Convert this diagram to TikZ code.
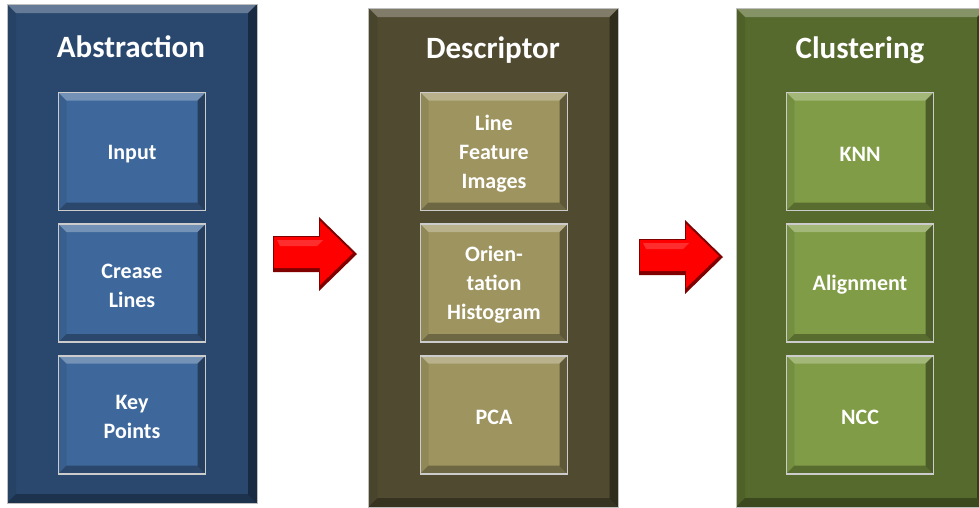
\documentclass[tikz,border=0pt]{standalone}
\usepackage{fontspec}
\setmainfont{Carlito}
\usetikzlibrary{positioning,calc}

\definecolor{absblue}{RGB}{42,72,110}
\definecolor{absbox}{RGB}{62,104,155}
\definecolor{desolive}{RGB}{80,74,48}
\definecolor{desbox}{RGB}{158,148,96}
\definecolor{clugreen}{RGB}{86,106,45}
\definecolor{clubox}{RGB}{128,156,70}

% raised edges: light on top, dark to the right and below
\tikzset{bevel/.style={path picture={
  \path (path picture bounding box.north west) coordinate (bnw)
        (path picture bounding box.north east) coordinate (bne)
        (path picture bounding box.south west) coordinate (bsw)
        (path picture bounding box.south east) coordinate (bse);
  \fill[white,opacity=.28] (bnw) -- (bne) -- ($(bne)+(-#1,-#1)$) -- ($(bnw)+(#1,-#1)$) -- cycle;
  \fill[black,opacity=.4] (bne) -- (bse) -- ($(bse)+(-#1,#1)$) -- ($(bne)+(-#1,-#1)$) -- cycle;
  \fill[black,opacity=.3] (bsw) -- (bse) -- ($(bse)+(-#1,#1)$) -- ($(bsw)+(#1,#1)$) -- cycle;
  \fill[black,opacity=.08] (bnw) -- (bsw) -- ($(bsw)+(#1,#1)$) -- ($(bnw)+(#1,-#1)$) -- cycle;
}}}
\tikzstyle{panel}=[draw=black!25, line width=.6pt, minimum width=250pt, minimum height=499pt, bevel=9pt]
\tikzstyle{stage}=[draw=white!80!black, line width=1.6pt, minimum width=147pt, minimum height=118pt, text width=130pt, align=center, text=white, font=\bfseries\fontsize{22}{29}\selectfont, execute at begin node={\rule{0pt}{19pt}}, bevel=8pt]
\tikzstyle{heading}=[text=white, font=\bfseries\fontsize{31}{36}\selectfont]

\begin{document}
\begin{tikzpicture}[x=1pt,y=-1pt]
\useasboundingbox (0,0) rectangle (979,507);
\fill[white] (0,0) rectangle (979,507);

% the three columns
\node[panel, fill=absblue] (abs) at (132,253.5) {};
\node[panel, fill=desolive] (des) at (493.5,257.5) {};
\node[panel, fill=clugreen] (clu) at (861,257.5) {};

\node[heading] (absT) at (131,47) {Abstraction};
\node[heading] (desT) at (493,50) {Descriptor};
\node[heading] (cluT) at (860,50) {Clustering};

\node[stage, fill=absbox] (input) at (132,151.5) {Input};
\node[stage, fill=absbox, below=12pt of input] (crease) {Crease\\Lines};
\node[stage, fill=absbox, below=12pt of crease] (keypts) {Key\\Points};

\node[stage, fill=desbox] (lfi) at (494,151.5) {Line\\Feature\\Images};
\node[stage, fill=desbox, below=12pt of lfi] (orient) {Orien-\\tation\\Histogram};
\node[stage, fill=desbox, below=12pt of orient] (pca) {PCA};

\node[stage, fill=clubox] (knn) at (860,151.5) {KNN};
\node[stage, fill=clubox, below=12pt of knn] (align) {Alignment};
\node[stage, fill=clubox, below=12pt of align] (ncc) {NCC};

% block arrows between the columns
\coordinate (ar1) at (315,254);
\coordinate (ar2) at (681,257);
\foreach \a in {ar1,ar2}{
  \fill[red!50!black] ($(\a)+(-42,-18)$) -- ($(\a)+(4,-18)$) -- ($(\a)+(4,-37)$) -- ($(\a)+(42,0)$)
    -- ($(\a)+(4,37)$) -- ($(\a)+(4,18)$) -- ($(\a)+(-42,18)$) -- cycle;
  \fill[red] ($(\a)+(-41,-17)$) -- ($(\a)+(5,-17)$) -- ($(\a)+(5,-33)$) -- ($(\a)+(38,-1)$)
    -- ($(\a)+(5,31)$) -- ($(\a)+(5,14)$) -- ($(\a)+(-41,14)$) -- cycle;
  \fill[white,opacity=.18] ($(\a)+(-38,-14)$) -- ($(\a)+(8,-14)$) -- ($(\a)+(2,-8)$) -- ($(\a)+(-35,-8)$) -- cycle;
}
\end{tikzpicture}
\end{document}
